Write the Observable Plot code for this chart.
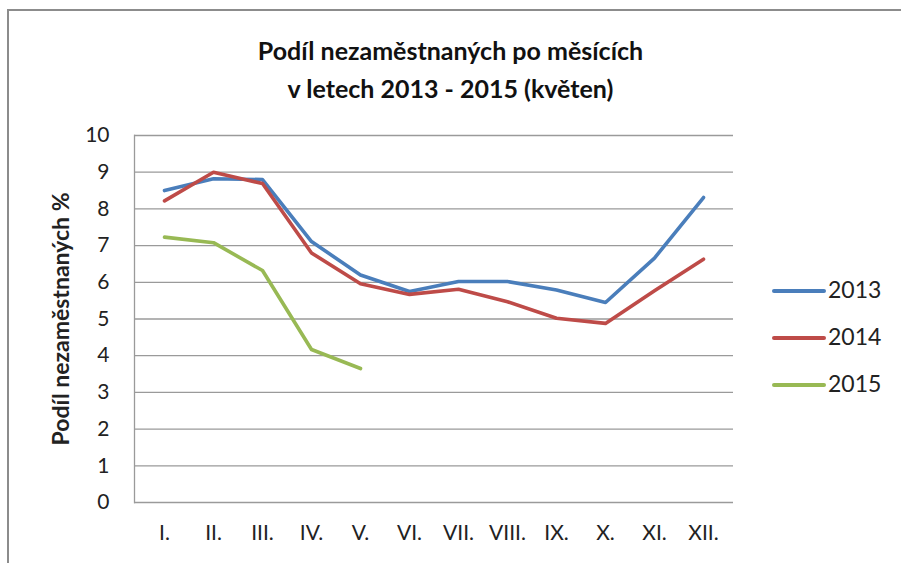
<!DOCTYPE html>
<html>
<head>
<meta charset="utf-8">
<script src="https://cdn.jsdelivr.net/npm/d3@7"></script>
<script src="https://cdn.jsdelivr.net/npm/@observablehq/plot@0.6"></script>
<style>
  html, body { margin: 0; padding: 0; background: #fff; }
  #wrap { position: relative; width: 901px; height: 563px; overflow: hidden; font-family: Lato, "Open Sans", sans-serif; }
  #wrap svg { position: absolute; left: 0; top: 0; }
  .border-top { position: absolute; left: 7px; top: 9px; width: 900px; height: 2px; background: #8c8c8c; }
  .border-left { position: absolute; left: 7px; top: 9px; width: 2px; height: 560px; background: #8c8c8c; }
  #title { position: absolute; left: 0; width: 901px; top: 31px; text-align: center; font-size: 25px; font-weight: 700; line-height: 38px; color: #111; }
  #legend { position: absolute; left: 772px; top: 0; }
  .lg { position: absolute; left: 0; width: 140px; height: 24px; }
  .lg .sw { position: absolute; left: 0; top: 10px; width: 54px; height: 4px; border-radius: 2px; }
  .lg .tx { position: absolute; left: 56px; top: -4px; font-size: 23px; color: #222; }
</style>
</head>
<body>
<div id="wrap">
  <div class="border-top"></div>
  <div class="border-left"></div>
  <div id="title">Podíl nezaměstnaných po měsících<br>v letech 2013 - 2015 (květen)</div>
  <div id="legend"></div>
</div>
<script>
const months = ["I.", "II.", "III.", "IV.", "V.", "VI.", "VII.", "VIII.", "IX.", "X.", "XI.", "XII."];
const years = ["2013", "2014", "2015"];
const colors = ["#4a7ebb", "#be4b48", "#98b954"];
const v2013 = [8.5, 8.82, 8.8, 7.11, 6.2, 5.75, 6.02, 6.02, 5.79, 5.45, 6.66, 8.31];
const v2014 = [8.22, 9.0, 8.69, 6.8, 5.96, 5.67, 5.81, 5.47, 5.02, 4.88, 5.77, 6.63];
const v2015 = [7.23, 7.08, 6.32, 4.17, 3.65];
const yTicks = [0, 1, 2, 3, 4, 5, 6, 7, 8, 9, 10];
const yLabel = "Podíl nezaměstnaných %";

const series = [v2013, v2014, v2015];
const data = [];
series.forEach((vals, i) => vals.forEach((v, j) => data.push({year: years[i], month: months[j], value: v})));

const chart = Plot.plot({
  width: 901,
  height: 563,
  marginTop: 135,
  marginBottom: 61,
  marginLeft: 134,
  marginRight: 168,
  style: {fontFamily: "Lato, 'Open Sans', sans-serif", fontSize: "21px", color: "#222", background: "transparent", overflow: "visible"},
  x: {type: "point", domain: months, padding: 0.5},
  y: {domain: [0, 10]},
  color: {domain: years, range: colors},
  marks: [
    Plot.ruleY(yTicks, {stroke: "#9a9a9a", strokeWidth: 1.3, strokeOpacity: 1}),
    Plot.frame({anchor: "left", stroke: "#9a9a9a", strokeWidth: 1.3}),
    Plot.axisY({ticks: yTicks, tickSize: 0, tickPadding: 25, fontSize: 21, label: yLabel, labelAnchor: "center", labelArrow: "none", labelOffset: 82}),
    Plot.axisX({tickSize: 0, tickPadding: 23, fontSize: 21, label: null}),
    Plot.line(data, {x: "month", y: "value", z: "year", stroke: "year", strokeWidth: 3.6, strokeLinejoin: "round", strokeLinecap: "round"})
  ]
});
document.getElementById("wrap").insertBefore(chart, document.getElementById("title"));

chart.querySelectorAll("text").forEach(t => {
  if (t.textContent === yLabel) { t.style.fontWeight = "700"; t.style.fontSize = "23px"; }
});

const legend = document.getElementById("legend");
years.forEach((y, i) => {
  const d = document.createElement("div");
  d.className = "lg";
  d.style.top = (279 + i * 47) + "px";
  d.innerHTML = `<div class="sw" style="background:${colors[i]}"></div><div class="tx">${y}</div>`;
  legend.appendChild(d);
});
</script>
</body>
</html>
